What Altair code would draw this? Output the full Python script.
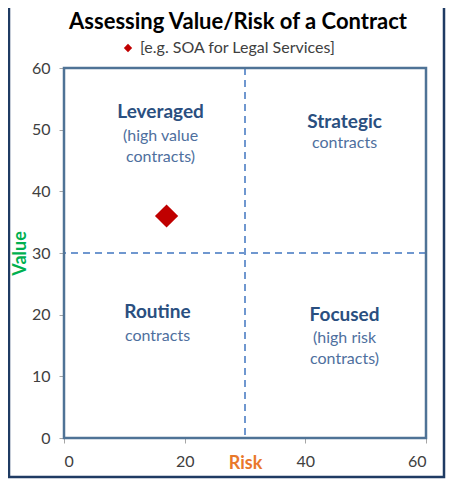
import altair as alt
import pandas as pd

# ---- data ----
chart_title = ["Assessing Value/Risk of a Contract"]
series_name = ["[e.g. SOA for Legal Services]"]
point_risk = [17]
point_value = [36]

split_risk = [30]
split_value = [30]

quad_heads = ["Leveraged", "Strategic", "Routine", "Focused"]
quad_head_x = [16, 46.5, 15.5, 46.5]
quad_head_y = [52.9, 51.2, 20.4, 19.9]

quad_subs = [["(high value", "contracts)"], ["contracts"], ["contracts"], ["(high risk", "contracts)"]]
quad_sub_x = [16, 46.5, 15.5, 46.5]
quad_sub_y = [49.0, 47.8, 16.6, 16.2]

x_ticks = [0, 20, 40, 60]
y_ticks = [0, 10, 20, 30, 40, 50, 60]

FONT = "Lato"

pts = pd.DataFrame({"Risk": point_risk, "Value": point_value, "series": series_name})
heads = pd.DataFrame({"label": quad_heads, "x": quad_head_x, "y": quad_head_y})
subs = pd.DataFrame({"label": quad_subs, "x": quad_sub_x, "y": quad_sub_y})
vline = pd.DataFrame({"x": split_risk})
hline = pd.DataFrame({"y": split_value})
ttl = pd.DataFrame({"t": chart_title})
one = pd.DataFrame({"a": [0]})

xscale = alt.Scale(domain=[0, 60], nice=False)
yscale = alt.Scale(domain=[0, 60], nice=False)

xaxis = alt.Axis(values=x_ticks, title="Risk", grid=False, domain=False,
                 tickColor="#a6a6a6", tickSize=5, labelColor="#404040",
                 labelFont=FONT, labelFontSize=16, labelPadding=10,
                 titleColor="#e9782b", titleFont=FONT, titleFontSize=18,
                 titleFontWeight="bold", titleY=25, titleBaseline="middle")
yaxis = alt.Axis(values=y_ticks, title="Value", grid=False, domain=False,
                 tickColor="#a6a6a6", tickSize=5, labelColor="#404040",
                 labelFont=FONT, labelFontSize=16, labelPadding=9,
                 titleColor="#00b050", titleFont=FONT, titleFontSize=18,
                 titleFontWeight="bold", titleX=-44, titleBaseline="middle")

points = alt.Chart(pts).mark_point(shape="diamond", filled=True, size=540, opacity=1).encode(
    x=alt.X("Risk:Q", scale=xscale, axis=xaxis),
    y=alt.Y("Value:Q", scale=yscale, axis=yaxis),
    color=alt.Color("series:N",
                    scale=alt.Scale(domain=series_name, range=["#c00000"]),
                    legend=alt.Legend(orient="none", legendX=56, legendY=-28, title=None,
                                      symbolType="diamond", symbolSize=70,
                                      labelFont=FONT, labelFontSize=16, labelLimit=400,
                                      labelColor="#404040", symbolStrokeWidth=0)),
)

vrule = alt.Chart(vline).mark_rule(color="#6f97cf", strokeWidth=2, strokeDash=[7, 5]).encode(
    x=alt.X("x:Q", scale=xscale)
)
hrule = alt.Chart(hline).mark_rule(color="#6f97cf", strokeWidth=2, strokeDash=[7, 5]).encode(
    y=alt.Y("y:Q", scale=yscale)
)

head_text = alt.Chart(heads).mark_text(font=FONT, fontSize=19, fontWeight="bold",
                                       color="#2a4f80", align="center", baseline="middle").encode(
    x=alt.X("x:Q", scale=xscale), y=alt.Y("y:Q", scale=yscale), text="label:N"
)
sub_text = alt.Chart(subs).mark_text(font=FONT, fontSize=16, color="#4e6f9e",
                                     align="center", baseline="middle", lineHeight=21).encode(
    x=alt.X("x:Q", scale=xscale), y=alt.Y("y:Q", scale=yscale), text="label"
)

title_text = alt.Chart(ttl).mark_text(font=FONT, fontSize=22, fontWeight="bold",
                                      color="#000000", align="center", baseline="middle").encode(
    x=alt.value(174), y=alt.value(-46), text="t:N"
)

frame = alt.Chart(one).mark_rect(
    filled=False, stroke="#1f3b63", strokeWidth=2.5, clip=False
).encode(x=alt.value(-55), x2=alt.value(380), y=alt.value(-75), y2=alt.value(409))

plot_frame = alt.Chart(one).mark_rect(
    filled=False, stroke="#4f7396", strokeWidth=2.5, clip=False
).encode(x=alt.value(0), x2=alt.value(362), y=alt.value(0), y2=alt.value(370))

chart = alt.layer(frame, vrule, hrule, plot_frame, head_text, sub_text, title_text, points).properties(
    width=362, height=370,
    autosize=alt.AutoSizeParams(type="none"),
    padding={"left": 56, "top": 60, "right": 20, "bottom": 41},
).configure_view(stroke=None).configure(background="white")

chart.save("out.html", embed_options={"renderer": "svg", "actions": False})
